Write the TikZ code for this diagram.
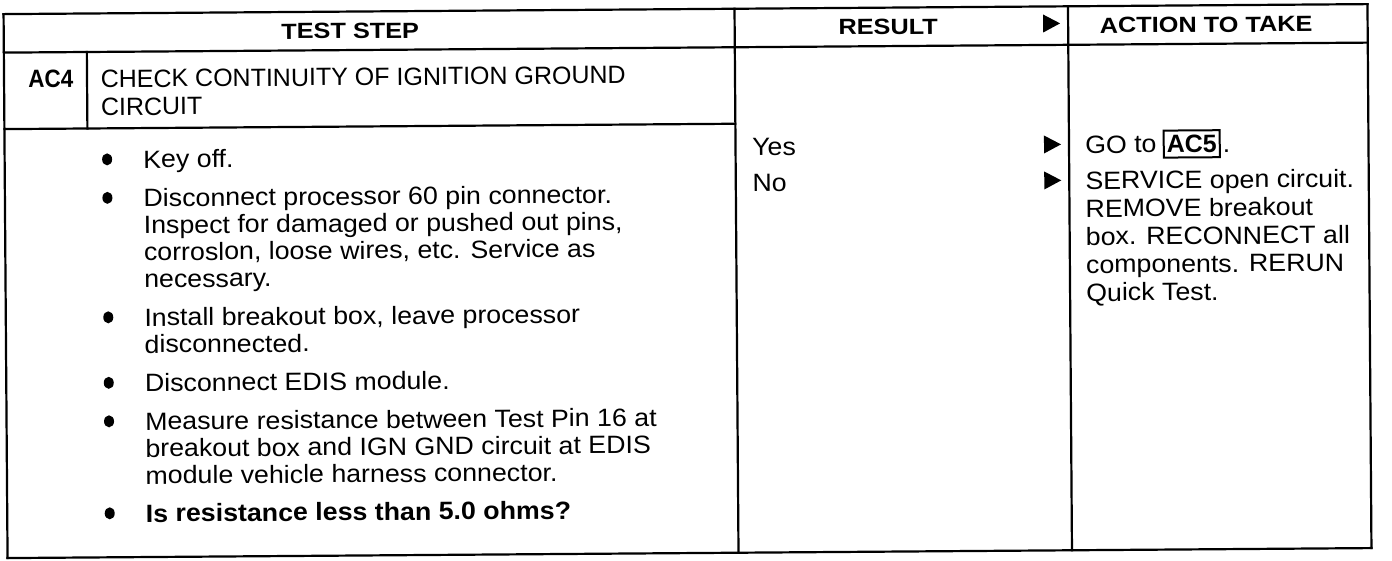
\documentclass[tikz,border=0pt]{standalone}
\usepackage{fontspec}
\setmainfont{Liberation Sans}
\newfontfamily\bodyfont{Liberation Sans}[FakeStretch=1.07]
\newfontfamily\hdrfont{Liberation Sans}[FakeStretch=1.15]
\newfontfamily\idfont{Liberation Sans}[FakeStretch=0.9]
\usetikzlibrary{shapes.geometric}
\tikzset{
  rule/.style={line width=2.2pt, line cap=rect},
  txt/.style={anchor=base west, inner sep=0pt, font=\bodyfont\fontsize{25}{27}\selectfont},
  ctxt/.style={anchor=base west, inner sep=0pt, font=\fontsize{25}{27}\selectfont},
  btxt/.style={anchor=base west, inner sep=0pt, font=\bodyfont\bfseries\fontsize{25}{27}\selectfont},
  idtxt/.style={anchor=base west, inner sep=0pt, font=\idfont\bfseries\fontsize{25}{27}\selectfont},
  hdr/.style={anchor=base, inner sep=0pt, font=\hdrfont\bfseries\fontsize{22}{25}\selectfont},
  bul/.style={fill=black, ellipse, inner sep=0pt, minimum width=10pt, minimum height=12pt},
  tri/.style={fill=black},
  refbox/.style={draw, line width=2pt, anchor=base west, inner xsep=3pt, inner ysep=4pt,
    text height=18pt, text depth=1pt, font=\bfseries\fontsize{25}{27}\selectfont},
}
\begin{document}
\begin{tikzpicture}[x=1pt,y=-1pt]
\useasboundingbox (0,0) rectangle (1392,560);
\begin{scope}[rotate around={0.42:(700,280)}, transform shape]
% frame
\draw[rule] (5.5,9) -- (1369.5,9);
\draw[rule] (5.5,9) -- (5.5,553);
\draw[rule] (5.5,47.5) -- (1369.5,47.5);
\draw[rule] (5.5,124) -- (736.5,124);
\draw[rule] (88.5,47.5) -- (88.5,124);
\draw[rule] (736.5,9) -- (736.5,553);
\draw[rule] (1070,9) -- (1070,553);
\draw[rule] (1369.5,9) -- (1369.5,553);
\draw[rule] (5.5,553) -- (1369.5,553);
% headers
\node[hdr] (h1) at (352,36) {TEST STEP};
\node[hdr] (h2) at (890,36) {RESULT};
\node[hdr] (h3) at (1208,36) {ACTION TO TAKE};
\fill[tri] (1045,17) -- (1062,26) -- (1045,35) -- cycle;
% step id and title
\node[idtxt] (ac4) at (29.5,83) {AC4};
\node[ctxt] (t1) at (102,83) {CHECK CONTINUITY OF IGNITION GROUND};
\node[ctxt] (t2) at (102,111) {CIRCUIT};
% bullets
\foreach \y/\n in {164/k1,202.5/k2,322/k3,387.5/k4,426/k5,518/k6}
  \node[bul] (\n) at (108,\y-9) {};
\node[txt] (b1) at (144,164) {Key off.};
\node[txt] (b2a) at (144,202.5) {Disconnect processor 60 pin connector.};
\node[txt] (b2b) at (144,229.5) {Inspect for damaged or pushed out pins,};
\node[txt] (b2c) at (144,256.5) {corroslon, loose wires, etc. Service as};
\node[txt] (b2d) at (144,283.5) {necessary.};
\node[txt] (b3a) at (144,322) {Install breakout box, leave processor};
\node[txt] (b3b) at (144,349) {disconnected.};
\node[txt] (b4) at (144,387.5) {Disconnect EDIS module.};
\node[txt] (b5a) at (144,426) {Measure resistance between Test Pin 16 at};
\node[txt] (b5b) at (144,453) {breakout box and IGN GND circuit at EDIS};
\node[txt] (b5c) at (144,480) {module vehicle harness connector.};
\node[btxt] (b6) at (144,518) {Is resistance less than 5.0 ohms?};
% results
\node[txt] (r1) at (753,156) {Yes};
\node[txt] (r2) at (753,192) {No};
\fill[tri] (1045,138) -- (1062,147) -- (1045,156) -- cycle;
\fill[tri] (1045,174) -- (1062,183) -- (1045,192) -- cycle;
% actions
\node[txt] (a1) at (1086,156) {GO to};
\node[refbox] (ac5) at ([xshift=6pt]a1.base east) {AC5};
\node[txt] (a1d) at ([xshift=2pt]ac5.base east) {.};
\node[txt] (a2) at (1086,192) {SERVICE open circuit.};
\node[txt] (a3) at (1086,220) {REMOVE breakout};
\node[txt] (a4) at (1086,248) {box. RECONNECT all};
\node[txt] (a5) at (1086,276) {components. RERUN};
\node[txt] (a6) at (1086,304) {Quick Test.};
\end{scope}
\end{tikzpicture}
\end{document}
